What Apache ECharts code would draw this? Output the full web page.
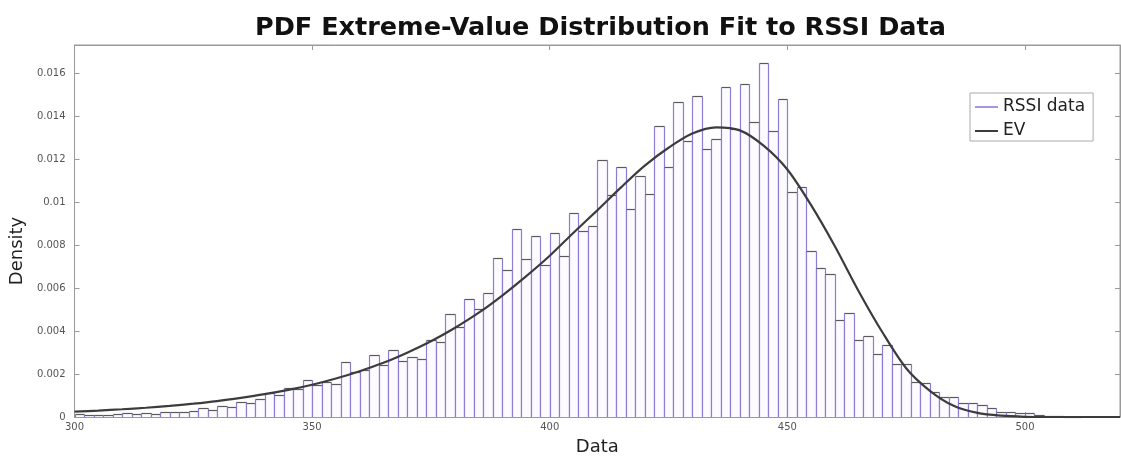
<!DOCTYPE html>
<html><head><meta charset="utf-8">
<script src="https://cdn.jsdelivr.net/npm/echarts@6/dist/echarts.min.js"></script>
<style>html,body{margin:0;padding:0;background:#fff}#c{width:1121px;height:461px}</style>
</head><body><div id="c"></div>
<script>
// Histogram bins (left edges) and bin width
const binLeft = [300,302,304,306,308,310,312,314,316,318,320,322,324,326,328,330,332,334,336,338,
  340,342,344,346,348,350,352,354,356,358,360,362,364,366,368,370,372,374,376,378,
  380,382,384,386,388,390,392,394,396,398,400,402,404,406,408,410,412,414,416,418,
  420,422,424,426,428,430,432,434,436,438,440,442,444,446,448,450,452,454,456,458,
  460,462,464,466,468,470,472,474,476,478,480,482,484,486,488,490,492,494,496,498,
  500,502,504,506,508,510];
const binWidth = 2;
// RSSI data density per bin
const density = [0.00012,0.00009,0.00009,0.00011,0.00015,0.00019,0.00015,0.00019,0.00015,0.00022,
  0.00022,0.00025,0.00026,0.00043,0.00031,0.00051,0.00045,0.00068,0.00065,0.00082,
  0.00110,0.00102,0.00133,0.00130,0.00170,0.00150,0.00164,0.00155,0.00254,0.00210,
  0.00220,0.00290,0.00240,0.00310,0.00260,0.00280,0.00270,0.00360,0.00350,0.00480,
  0.00420,0.00550,0.00500,0.00578,0.00740,0.00685,0.00875,0.00736,0.00844,0.00705,
  0.00856,0.00747,0.00950,0.00867,0.00890,0.01197,0.01034,0.01164,0.00968,0.01122,
  0.01036,0.01351,0.01161,0.01467,0.01282,0.01493,0.01246,0.01293,0.01536,0.01340,
  0.01550,0.01370,0.01648,0.01330,0.01478,0.01046,0.01070,0.00770,0.00695,0.00665,
  0.00450,0.00485,0.00357,0.00379,0.00295,0.00334,0.00248,0.00246,0.00164,0.00158,
  0.00117,0.00093,0.00091,0.00067,0.00066,0.00056,0.00040,0.00025,0.00025,0.00017,
  0.00017,0.00009,0.00006,0.00004,0.00002,0.00001];
// EV fit curve
const evX = [300,305,310,315,320,325,330,335,340,345,350,355,360,365,370,375,380,385,390,395,
  400,405,410,415,420,425,430,435,440,445,450,455,460,465,470,475,480,485,490,495,500,505,510,515,520];
const evY = [0.00025,0.00030,0.00036,0.00043,0.00052,0.00062,0.00074,0.00089,0.00106,0.00126,
  0.00150,0.00179,0.00213,0.00252,0.00299,0.00352,0.00414,0.00484,0.00565,0.00654,
  0.00750,0.00857,0.00961,0.01068,0.01169,0.01252,0.01318,0.01347,0.01333,0.01262,
  0.01151,0.00985,0.00794,0.00585,0.00394,0.00227,0.00122,0.00052,0.00019,0.00006,
  0.00001,0,0,0,0];
const titleText = 'PDF Extreme-Value Distribution Fit to RSSI Data';
const xName = 'Data', yName = 'Density';
const seriesNames = ['RSSI data', 'EV'];

const histData = binLeft.map((b, i) => [b, b + binWidth, density[i]]);
const evData = evX.map((x, i) => [x, evY[i]]);

const FONT = 'DejaVu Sans';
const X_MIN = 300, X_MAX = 520, X_INT = 50;
const Y_MIN = 0, Y_MAX = 0.0173, Y_INT = 0.002;

const chart = echarts.init(document.getElementById('c'), null, {renderer: 'canvas'});
const baseX = {type: 'value', min: X_MIN, max: X_MAX, interval: X_INT, splitLine: {show: false}};
const baseY = {type: 'value', min: Y_MIN, max: Y_MAX, interval: Y_INT, splitLine: {show: false}};
const lineCol = '#9a9a9a';
chart.setOption({
  backgroundColor: '#fff',
  animation: false,
  title: {
    text: titleText, left: 250, top: 10,
    textStyle: {fontFamily: FONT, fontWeight: 'bold', fontSize: 25.5, color: '#111'}
  },
  legend: {
    orient: 'vertical', left: 970, top: 93,
    padding: [5, 8, 1, 5], itemGap: 6,
    itemWidth: 23, itemHeight: 2,
    backgroundColor: '#fff', borderColor: '#aaa', borderWidth: 1,
    textStyle: {fontFamily: FONT, fontSize: 17, color: '#222', lineHeight: 18},
    data: [{name: seriesNames[0], icon: 'rect'}, {name: seriesNames[1], icon: 'rect'}]
  },
  grid: {left: 72, right: 1, top: 45, bottom: 44, show: true, borderColor: lineCol, borderWidth: 1, backgroundColor: '#fff'},
  xAxis: [
    Object.assign({}, baseX, {
      position: 'bottom',
      name: xName, nameLocation: 'middle', nameGap: 21,
      nameTextStyle: {fontFamily: FONT, fontSize: 18, color: '#222'},
      axisLine: {show: true, onZero: false, lineStyle: {color: lineCol}},
      axisTick: {show: true, inside: true, length: 5, lineStyle: {color: lineCol}},
      axisLabel: {fontFamily: FONT, fontSize: 10, color: '#555', margin: 5, showMaxLabel: false}
    }),
    Object.assign({}, baseX, {
      position: 'top',
      axisLine: {show: true, onZero: false, lineStyle: {color: lineCol}},
      axisTick: {show: true, inside: true, length: 5, lineStyle: {color: lineCol}},
      axisLabel: {show: false}
    })
  ],
  yAxis: [
    Object.assign({}, baseY, {
      position: 'left',
      name: yName, nameLocation: 'middle', nameGap: 31, nameRotate: 90,
      nameTextStyle: {fontFamily: FONT, fontSize: 18, color: '#222', padding: [0, 40, 0, 0]},
      axisLine: {show: true, onZero: false, lineStyle: {color: lineCol}},
      axisTick: {show: true, inside: true, length: 5, lineStyle: {color: lineCol}},
      axisLabel: {fontFamily: FONT, fontSize: 10, color: '#555', margin: 9, showMaxLabel: false}
    }),
    Object.assign({}, baseY, {
      position: 'right',
      axisLine: {show: true, onZero: false, lineStyle: {color: lineCol}},
      axisTick: {show: true, inside: true, length: 5, lineStyle: {color: lineCol}},
      axisLabel: {show: false}
    })
  ],
  series: [
    {
      name: seriesNames[0], type: 'custom',
      xAxisIndex: 0, yAxisIndex: 0,
      itemStyle: {color: '#a597e3'},
      encode: {x: [0, 1], y: 2},
      data: histData,
      renderItem: function (params, api) {
        const p0 = api.coord([api.value(0), api.value(2)]);
        const p1 = api.coord([api.value(1), 0]);
        const x0 = Math.round(p0[0]) + 0.5, x1 = Math.round(p1[0]) + 0.5;
        const yt = Math.round(p0[1]) + 0.5, yb = p1[1];
        return {
          type: 'group',
          children: [
            {type: 'rect', shape: {x: x0, y: yt, width: x1 - x0, height: yb - yt}, style: {fill: '#fdfbff'}},
            {type: 'line', shape: {x1: x0, y1: yt, x2: x0, y2: yb}, style: {stroke: '#8b7ed2', lineWidth: 1.2}},
            {type: 'line', shape: {x1: x1, y1: yt, x2: x1, y2: yb}, style: {stroke: '#8b7ed2', lineWidth: 1.2}},
            {type: 'line', shape: {x1: x0, y1: yt, x2: x1, y2: yt}, style: {stroke: '#5a5a5a', lineWidth: 1.2}}
          ]
        };
      }
    },
    {
      name: seriesNames[1], type: 'line',
      xAxisIndex: 0, yAxisIndex: 0,
      data: evData, showSymbol: false, smooth: 0.3,
      lineStyle: {color: '#3c3c3c', width: 2.2},
      itemStyle: {color: '#3c3c3c'},
      z: 5
    }
  ]
});
</script></body></html>
